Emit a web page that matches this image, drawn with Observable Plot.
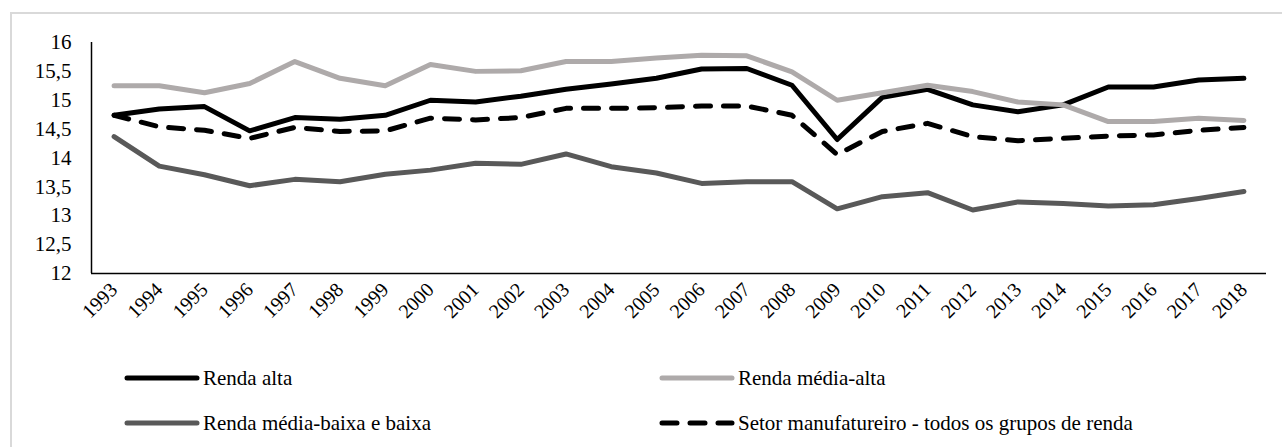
<!DOCTYPE html>
<html>
<head>
<meta charset="utf-8">
<script src="https://cdn.jsdelivr.net/npm/d3@7"></script>
<script src="https://cdn.jsdelivr.net/npm/@observablehq/plot@0.6"></script>
<style>
  html, body { margin: 0; padding: 0; background: #fff; overflow: hidden; }
  #frame {
    position: absolute; left: 10px; top: 12px; width: 1300px; height: 460px;
    border-left: 2px solid #d9d9d9; border-top: 2px solid #d9d9d9;
  }
  #chart { position: absolute; left: 0; top: 0; }
  #legend { position: absolute; left: 0; top: 318px; }
</style>
</head>
<body>
<div id="frame">
  <div id="chart"></div>
  <div id="legend"></div>
</div>
<script>
const years = [1993, 1994, 1995, 1996, 1997, 1998, 1999, 2000, 2001, 2002, 2003, 2004, 2005,
               2006, 2007, 2008, 2009, 2010, 2011, 2012, 2013, 2014, 2015, 2016, 2017, 2018];
const rendaAlta = [14.74, 14.85, 14.89, 14.47, 14.70, 14.67, 14.74, 15.00, 14.97, 15.07, 15.19, 15.28, 15.38,
                   15.54, 15.55, 15.26, 14.32, 15.05, 15.19, 14.92, 14.80, 14.92, 15.23, 15.23, 15.35, 15.38];
const rendaMediaAlta = [15.25, 15.25, 15.13, 15.29, 15.67, 15.38, 15.25, 15.62, 15.50, 15.51, 15.67, 15.67, 15.73,
                        15.78, 15.77, 15.49, 15.00, 15.13, 15.26, 15.15, 14.97, 14.92, 14.63, 14.63, 14.69, 14.65];
const rendaMediaBaixa = [14.37, 13.86, 13.71, 13.52, 13.63, 13.59, 13.72, 13.79, 13.91, 13.89, 14.07, 13.85, 13.74,
                         13.56, 13.59, 13.59, 13.12, 13.33, 13.40, 13.10, 13.24, 13.21, 13.17, 13.19, 13.30, 13.42];
const setorManufatureiro = [14.74, 14.54, 14.48, 14.34, 14.53, 14.46, 14.47, 14.69, 14.66, 14.70, 14.86, 14.86, 14.87,
                            14.90, 14.90, 14.74, 14.06, 14.46, 14.60, 14.37, 14.30, 14.34, 14.38, 14.40, 14.48, 14.53];
const seriesNames = ["Renda alta", "Renda média-alta", "Renda média-baixa e baixa",
                     "Setor manufatureiro - todos os grupos de renda"];
const yTicks = [12, 12.5, 13, 13.5, 14, 14.5, 15, 15.5, 16];

const FONT = "'Liberation Serif', 'Times New Roman', serif";

const seriesStyles = [
  {name: seriesNames[0], values: rendaAlta, stroke: "#000000", dash: null},
  {name: seriesNames[1], values: rendaMediaAlta, stroke: "#aeaaaa", dash: null},
  {name: seriesNames[2], values: rendaMediaBaixa, stroke: "#595959", dash: null},
  {name: seriesNames[3], values: setorManufatureiro, stroke: "#000000", dash: "15 13"}
];

const toRows = s => years.map((yr, i) => ({year: yr, value: s.values[i], series: s.name}));

const W = 1270, H = 318;
const chart = Plot.plot({
  width: W, height: H,
  marginLeft: 79, marginRight: 16, marginTop: 28, marginBottom: 59,
  style: {fontFamily: FONT, fontSize: "21px", color: "#000", background: "transparent"},
  x: {type: "linear", domain: [years[0] - 0.5, years[years.length - 1] + 0.5], label: null},
  y: {domain: [12, 16], label: null},
  marks: [
    Plot.axisY({ticks: yTicks, tickSize: 0, tickPadding: 20, tickFormat: d => String(d).replace(".", ","), fontSize: 21, label: null}),
    Plot.axisX({ticks: years, tickSize: 0, tickPadding: 13, tickRotate: -45, tickFormat: d => String(d), fontSize: 20, label: null}),
    ...seriesStyles.map(s => Plot.line(toRows(s), {
      x: "year", y: "value", stroke: s.stroke, strokeWidth: 5,
      strokeDasharray: s.dash, strokeLinecap: "round", strokeLinejoin: "round"
    })),
    Plot.ruleY([12], {stroke: "#000", strokeWidth: 1.5}),
    Plot.ruleX([years[0] - 0.5], {stroke: "#000", strokeWidth: 1.5})
  ]
});
document.getElementById("chart").appendChild(chart);

// legend (separate SVG below the chart)
const legPos = [
  {x: 113, y: 46}, {x: 648, y: 46},
  {x: 113, y: 91}, {x: 648, y: 91}
];
const lsvg = d3.create("svg").attr("width", W).attr("height", 130)
  .style("font-family", FONT).style("font-size", "21px");
seriesStyles.forEach((s, i) => {
  const g = lsvg.append("g").attr("transform", `translate(${legPos[i].x},${legPos[i].y})`);
  g.append("line").attr("x1", 2).attr("x2", 72).attr("y1", 0).attr("y2", 0)
    .attr("stroke", s.stroke).attr("stroke-width", 5).attr("stroke-linecap", "round")
    .attr("stroke-dasharray", s.dash);
  g.append("text").attr("x", 78).attr("y", 0).attr("dy", "0.35em")
    .attr("fill", "#000").attr("font-family", FONT).text(s.name);
});
document.getElementById("legend").appendChild(lsvg.node());
</script>
</body>
</html>
